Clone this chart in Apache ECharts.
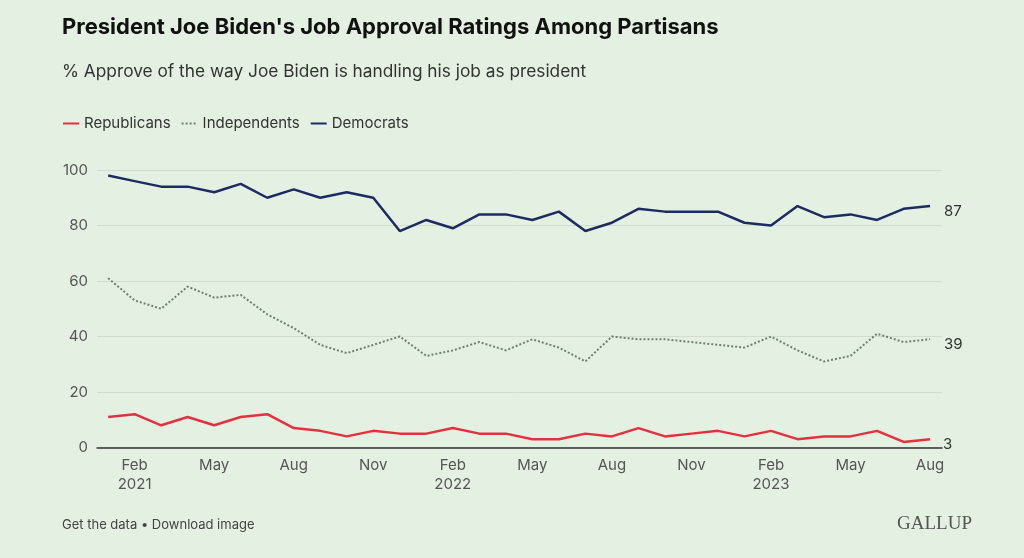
<!DOCTYPE html>
<html>
<head>
<meta charset="utf-8">
<script src="https://cdn.jsdelivr.net/npm/echarts@6/dist/echarts.min.js"></script>
<style>
html,body{margin:0;padding:0;background:#e4f0e1;}
#chart{width:1024px;height:558px;}
</style>
</head>
<body>
<div id="chart"></div>
<script>
// Monthly surveys, Jan 2021 .. Aug 2023
const months = [
  "Jan 2021","Feb 2021","Mar 2021","Apr 2021","May 2021","Jun 2021","Jul 2021","Aug 2021","Sep 2021","Oct 2021","Nov 2021","Dec 2021",
  "Jan 2022","Feb 2022","Mar 2022","Apr 2022","May 2022","Jun 2022","Jul 2022","Aug 2022","Sep 2022","Oct 2022","Nov 2022","Dec 2022",
  "Jan 2023","Feb 2023","Mar 2023","Apr 2023","May 2023","Jun 2023","Jul 2023","Aug 2023"
];
const republicans = [11,12,8,11,8,11,12,7,6,4,6,5,5,7,5,5,3,3,5,4,7,4,5,6,4,6,3,4,4,6,2,3];
const independents = [61,53,50,58,54,55,48,43,37,34,37,40,33,35,38,35,39,36,31,40,39,39,38,37,36,40,35,31,33,41,38,39];
const democrats = [98,96,94,94,92,95,90,93,90,92,90,78,82,79,84,84,82,85,78,81,86,85,85,85,81,80,87,83,84,82,86,87];

// x tick positions (month index) and labels
const tickIndex = [1,4,7,10,13,16,19,22,25,28,31];
const tickLabels = ["Feb\n2021","May","Aug","Nov","Feb\n2022","May","Aug","Nov","Feb\n2023","May","Aug"];

const toPairs = arr => arr.map((v,i) => [i, v]);

const chart = echarts.init(document.getElementById('chart'), null, {renderer:'canvas'});
const font = 'Inter, "Noto Sans", sans-serif';
const endLbl = {show: true, formatter: p => p.value[1], color: '#333', fontSize: 15,
                distance: 14, offset: [0, 5], fontFamily: font};

chart.setOption({
  backgroundColor: '#e4f0e1',
  animation: false,
  textStyle: {fontFamily: font},
  title: [
    {text: "President Joe Biden's Job Approval Ratings Among Partisans", left: 62, top: 16, padding: 0,
     textStyle: {fontFamily: font, fontSize: 22, fontWeight: 'bold', color: '#111'}},
    {text: "% Approve of the way Joe Biden is handling his job as president", left: 62, top: 63, padding: 0,
     textStyle: {fontFamily: font, fontSize: 17.3, fontWeight: 'normal', color: '#333'}},
    {text: "Get the data • Download image", left: 62, top: 519, padding: 0,
     textStyle: {fontFamily: font, fontSize: 13, fontWeight: 'normal', color: '#444'}},
    {text: "GALLUP", right: 52, top: 515, padding: 0,
     textStyle: {fontFamily: '"Liberation Serif", "DejaVu Serif", serif', fontSize: 19, fontWeight: 'normal', color: '#555'}}
  ],
  legend: {
    left: 62, top: 116, padding: 0,
    itemWidth: 16, itemHeight: 10, itemGap: 10,
    itemStyle: {opacity: 0},
    textStyle: {fontFamily: font, fontSize: 15, color: '#333'},
    data: ['Republicans','Independents','Democrats']
  },
  grid: {left: 97, right: 82, top: 170, bottom: 110.5, containLabel: false},
  xAxis: {
    type: 'value',
    min: -0.42, max: 31.45,
    axisLine: {show: true, onZero: false, lineStyle: {color: '#333', width: 1.5}},
    axisTick: {show: false},
    splitLine: {show: false},
    axisLabel: {
      customValues: tickIndex,
      formatter: v => tickLabels[tickIndex.indexOf(Math.round(v))] || '',
      color: '#555', fontSize: 15, lineHeight: 19, margin: 8, fontFamily: font
    }
  },
  yAxis: {
    type: 'value',
    min: 0, max: 100, interval: 20,
    axisLine: {show: false},
    axisTick: {show: false},
    axisLabel: {color: '#555', fontSize: 15, margin: 9, fontFamily: font},
    splitLine: {lineStyle: {color: '#d2dccf', width: 1}}
  },
  series: [
    {name: 'Republicans', type: 'line', data: toPairs(republicans), symbol: 'none',
     lineStyle: {color: '#e3323f', width: 2.5}, itemStyle: {color: '#e3323f'},
     endLabel: Object.assign({}, endLbl, {distance: 13})},
    {name: 'Independents', type: 'line', data: toPairs(independents), symbol: 'none',
     lineStyle: {color: '#6e8072', width: 2, type: [2, 2]}, itemStyle: {color: '#6e8072'},
     endLabel: endLbl},
    {name: 'Democrats', type: 'line', data: toPairs(democrats), symbol: 'none',
     lineStyle: {color: '#1c2c63', width: 2.5}, itemStyle: {color: '#1c2c63'},
     endLabel: endLbl}
  ]
});
</script>
</body>
</html>
